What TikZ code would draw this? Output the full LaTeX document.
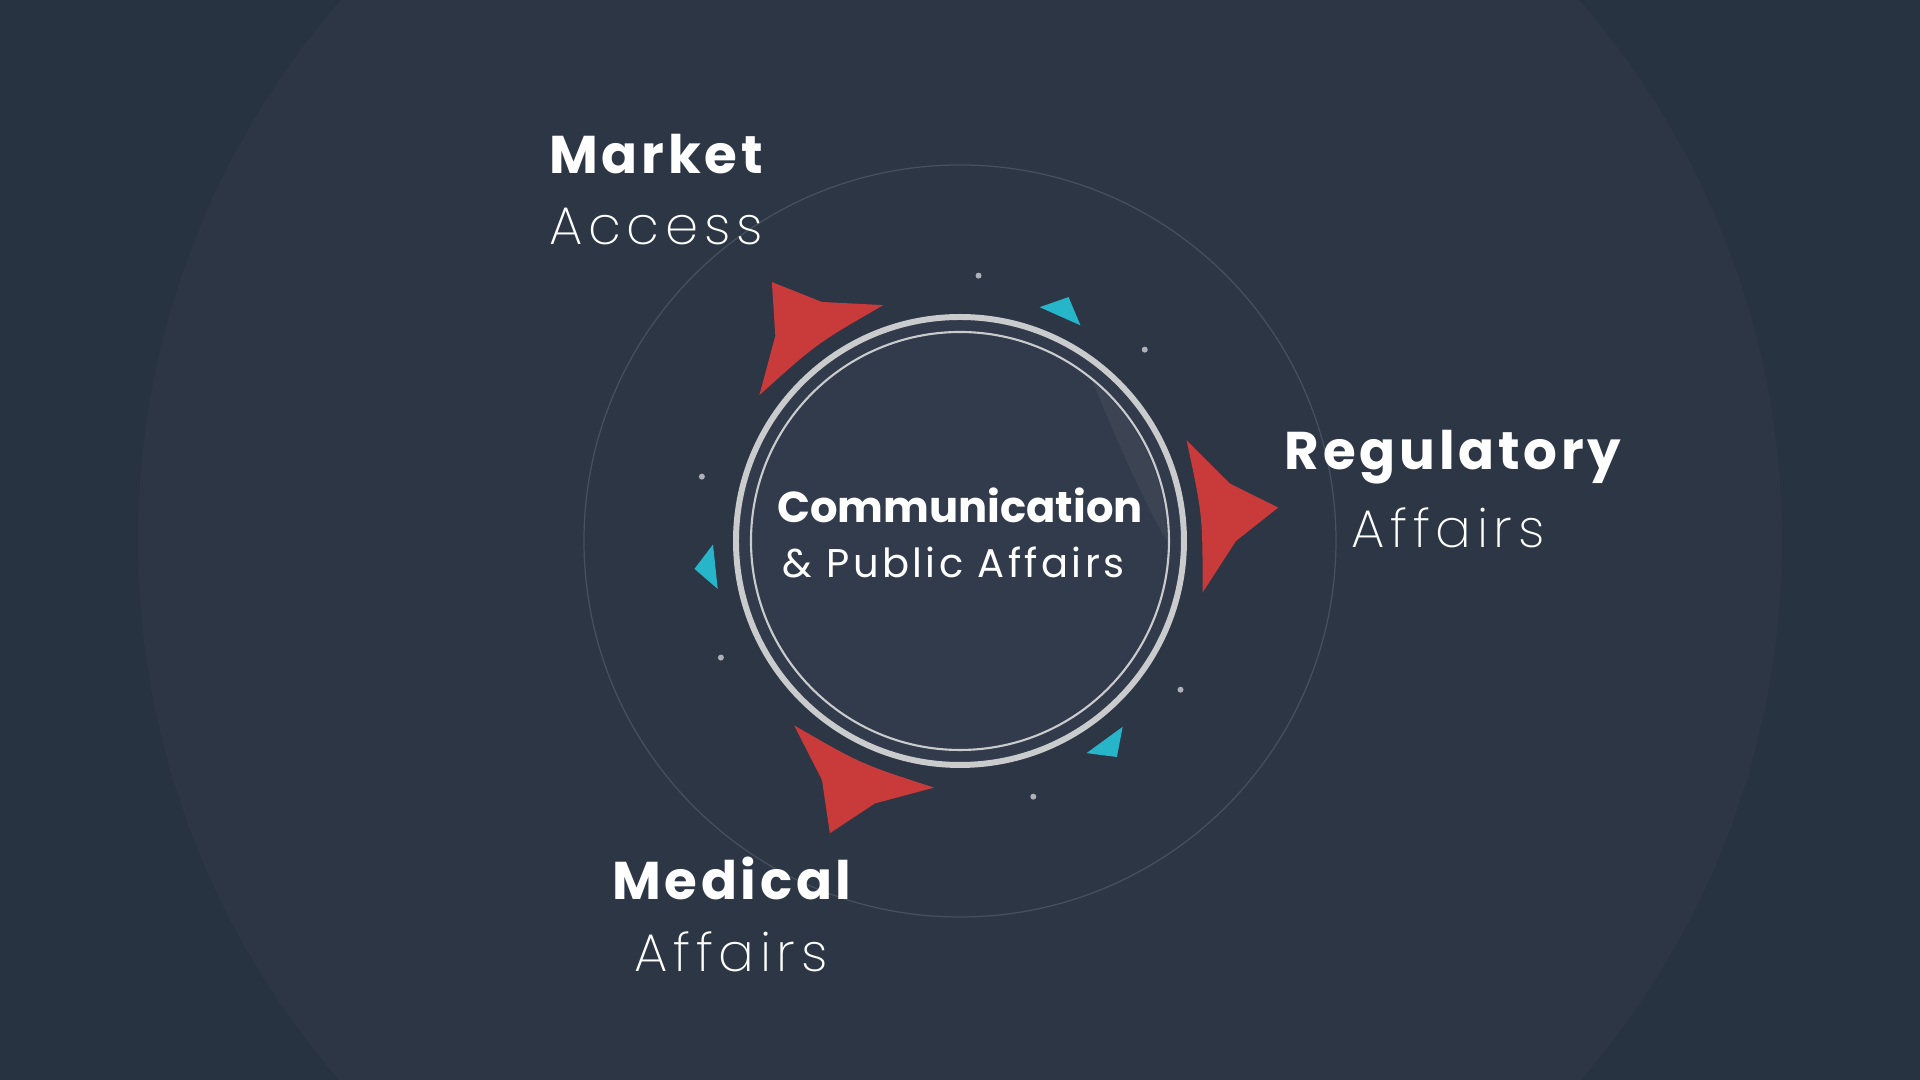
\documentclass[tikz,border=0pt]{standalone}
\usepackage{fontspec}
\setmainfont{Poppins}
\newfontfamily\headfont{Poppins}[LetterSpace=7]
\newfontfamily\lightfont{Poppins ExtraLight}[LetterSpace=10.5]
\newfontfamily\hubfont{Poppins}[LetterSpace=8.5]

\definecolor{bgdark}{HTML}{283341}
\definecolor{bghalo}{HTML}{2C3645}
\definecolor{orbit}{HTML}{46505E}
\definecolor{hubfill}{HTML}{323B4B}
\definecolor{ringgray}{HTML}{CACBCD}
\definecolor{arrowred}{HTML}{C93A3A}
\definecolor{tickcyan}{HTML}{27B5C9}
\definecolor{dotgray}{HTML}{AEB1B7}

\begin{document}
\begin{tikzpicture}[x=0.01cm, y=0.01cm,
    headword/.style={text=white, anchor=base, inner sep=0pt,
        font=\fontsize{15.1pt}{18pt}\selectfont\headfont\bfseries},
    subword/.style={text=white, anchor=base, inner sep=0pt,
        font=\fontsize{15.1pt}{18pt}\selectfont\lightfont},
    redarrow/.style={fill=arrowred},
    cyantick/.style={fill=tickcyan},
    spark/.style={fill=dotgray}]

    % Background and halo
    \fill[bgdark] (-960,-539) rectangle (960,541);
    \useasboundingbox (-960,-539) rectangle (960,541);
    \fill[bghalo] (0,0) circle (822);
    \draw[orbit, line width=0.35pt] (0,0) circle (376);

    % Hub
    \fill[hubfill] (0,0) circle (224);
    \fill[white, opacity=0.05] (0:207) arc[start angle=0, end angle=50, radius=207]
        .. controls (32:186) and (12:188) .. (0:207) -- cycle;
    \draw[ringgray, line width=1.7pt] (0,0) circle (224);
    \draw[ringgray, line width=0.6pt] (0,0) circle (209);

    % Red arrows (three, 120 deg apart)
    \foreach \a in {6,126,246} {
        \fill[redarrow] ({\a-18}:248) -- ({\a-6}:276) -- (\a:320) -- ({\a+6}:276)
            -- ({\a+18}:248) .. controls (\a:244) .. ({\a-18}:248) -- cycle;
    }

    % Cyan ticks with dots either side
    \foreach \a in {66,186,306} {
        \fill[cyantick] ({\a-5.2}:247) -- (\a:267) -- ({\a+5.2}:247) -- cycle;
        \fill[spark] ({\a+20}:266) circle (3);
        \fill[spark] ({\a-20}:266) circle (3);
    }

    % Labels
    \node[headword] (market) at (-304,367) {Market};
    \node[subword] (access) at (-304,296) {Access};
    \node[headword] (regulatory) at (493,71) {Regulatory};
    \node[subword] (regaffairs) at (488,-7) {Affairs};
    \node[headword] (medical) at (-228,-359) {Medical};
    \node[subword] (medaffairs) at (-229,-431) {Affairs};

    % Hub text
    \node[text=white, anchor=base, inner sep=0pt,
        font=\fontsize{12.3pt}{15pt}\selectfont\bfseries] (comm) at (0,18) {Communication};
    \node[text=white, anchor=base west, inner sep=0pt,
        font=\fontsize{11.4pt}{14pt}\selectfont\hubfont] (public) at (-178,-37) {\& Public Affairs};
\end{tikzpicture}
\end{document}
